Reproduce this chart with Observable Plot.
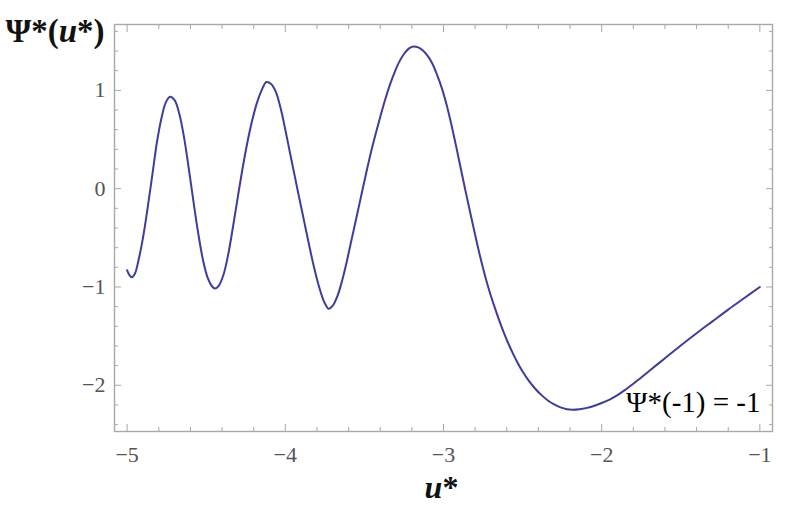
<!DOCTYPE html>
<html><head><meta charset="utf-8">
<script src="https://cdn.jsdelivr.net/npm/d3@7"></script>
<script src="https://cdn.jsdelivr.net/npm/@observablehq/plot@0.6"></script>
<style>body{margin:0;background:#fff}</style>
</head><body><div id="chart"></div>
<script>
// Values
const uValues = [
  -5.00, -4.985, -4.97, -4.95, -4.93, -4.90, -4.87, -4.84, -4.81, -4.78, -4.755, -4.728,
  -4.70, -4.67, -4.64, -4.61, -4.58, -4.55, -4.52, -4.49, -4.465, -4.445,
  -4.42, -4.39, -4.36, -4.33, -4.30, -4.27, -4.24, -4.21, -4.18, -4.15, -4.12,
  -4.09, -4.06, -4.03, -4.00, -3.97, -3.94, -3.91, -3.88, -3.85, -3.82, -3.79, -3.76, -3.74, -3.728,
  -3.70, -3.67, -3.64, -3.61, -3.58, -3.55, -3.52, -3.49, -3.46, -3.43, -3.40, -3.37, -3.34, -3.31, -3.28, -3.25, -3.22, -3.19,
  -3.16, -3.13, -3.10, -3.07, -3.04, -3.01, -2.98, -2.95, -2.92, -2.89, -2.86, -2.83, -2.80, -2.77, -2.74, -2.71, -2.68, -2.65, -2.62, -2.59, -2.56, -2.53, -2.50,
  -2.46, -2.42, -2.38, -2.34, -2.30, -2.26, -2.22, -2.184, -2.14, -2.10, -2.05, -2.00,
  -1.95, -1.90, -1.85, -1.80, -1.75, -1.70, -1.65, -1.60, -1.50, -1.40, -1.30, -1.20, -1.10, -1.00
];
const psiValues = [
  -0.83, -0.88, -0.90, -0.86, -0.74, -0.50, -0.19, 0.15, 0.49, 0.74, 0.88, 0.935,
  0.90, 0.76, 0.52, 0.20, -0.14, -0.46, -0.73, -0.91, -0.99, -1.015,
  -0.985, -0.87, -0.66, -0.38, -0.08, 0.21, 0.47, 0.69, 0.87, 1.00, 1.085,
  1.065, 0.985, 0.82, 0.60, 0.36, 0.125, -0.11, -0.34, -0.57, -0.79, -0.98, -1.13, -1.195, -1.222,
  -1.19, -1.09, -0.93, -0.73, -0.51, -0.29, -0.07, 0.15, 0.36, 0.55, 0.73, 0.90, 1.05, 1.18, 1.29, 1.37, 1.425, 1.447,
  1.437, 1.405, 1.35, 1.27, 1.155, 1.02, 0.85, 0.65, 0.43, 0.20, -0.03, -0.25, -0.47, -0.68, -0.87, -1.04, -1.19, -1.33, -1.46, -1.575, -1.68, -1.775, -1.86,
  -1.955, -2.035, -2.10, -2.155, -2.195, -2.225, -2.243, -2.248, -2.243, -2.232, -2.21, -2.18,
  -2.145, -2.10, -2.045, -1.985, -1.92, -1.855, -1.79, -1.725, -1.595, -1.47, -1.35, -1.23, -1.115, -1.00
];

const xMajorTicks = [-5, -4, -3, -2, -1];
const xMinorTicks = [-4.8, -4.6, -4.4, -4.2, -3.8, -3.6, -3.4, -3.2, -2.8, -2.6, -2.4, -2.2, -1.8, -1.6, -1.4, -1.2];
const yMajorTicks = [-2, -1, 0, 1];
const yMinorTicks = [-2.4, -2.2, -1.8, -1.6, -1.4, -1.2, -0.8, -0.6, -0.4, -0.2, 0.2, 0.4, 0.6, 0.8, 1.2, 1.4, 1.6];

const xLabel = "u*";
const yLabel = "Ψ*(u*)";
const annotation = "Ψ*(-1) = -1";

const data = uValues.map((u, i) => ({u, psi: psiValues[i]}));

const frameColor = "#a8a8a8";
const serif = "Liberation Serif, Times New Roman, serif";
const fmt = d => d < 0 ? "\u2212" + Math.abs(d) : String(d);

const chart = Plot.plot({
  width: 805, height: 512,
  marginLeft: 114, marginRight: 33, marginTop: 24, marginBottom: 81,
  style: {fontFamily: serif, background: "white"},
  x: {domain: [-5.08, -0.92]},
  y: {domain: [-2.47, 1.67]},
  marks: [
    Plot.frame({stroke: frameColor, strokeWidth: 1.4}),
    // inward ticks on all four sides
    Plot.axisX(xMajorTicks, {anchor: "bottom", tickSize: -7, text: null, label: null, stroke: frameColor}),
    Plot.axisX(xMinorTicks, {anchor: "bottom", tickSize: -4, text: null, label: null, stroke: frameColor}),
    Plot.axisX(xMajorTicks, {anchor: "top", tickSize: -7, text: null, label: null, stroke: frameColor}),
    Plot.axisX(xMinorTicks, {anchor: "top", tickSize: -4, text: null, label: null, stroke: frameColor}),
    Plot.axisY(yMajorTicks, {anchor: "left", tickSize: -7, text: null, label: null, stroke: frameColor}),
    Plot.axisY(yMinorTicks, {anchor: "left", tickSize: -4, text: null, label: null, stroke: frameColor}),
    Plot.axisY(yMajorTicks, {anchor: "right", tickSize: -7, text: null, label: null, stroke: frameColor}),
    Plot.axisY(yMinorTicks, {anchor: "right", tickSize: -4, text: null, label: null, stroke: frameColor}),
    // tick labels
    Plot.axisX(xMajorTicks, {anchor: "bottom", tickSize: 0, tickPadding: 15, label: null, tickFormat: fmt, fontSize: 22, fontFamily: serif, fill: "#555"}),
    Plot.axisY(yMajorTicks, {anchor: "left", tickSize: 0, tickPadding: 9, label: null, tickFormat: fmt, fontSize: 22, fontFamily: serif, fill: "#555"}),
    // curve
    Plot.line(data, {x: "u", y: "psi", curve: "catmull-rom", stroke: "#3d3d9d", strokeWidth: 2}),
    // labels
    Plot.text([yLabel], {frameAnchor: "top-left", dx: -109, dy: -6, textAnchor: "start", fontSize: 33, fontWeight: "bold", fontFamily: serif, fill: "#111"}),
    Plot.text([xLabel], {frameAnchor: "bottom", dx: -2, dy: 66, fontSize: 32, fontWeight: "bold", fontFamily: serif, fill: "#111"}),
    Plot.text([annotation], {frameAnchor: "bottom-right", dx: -12, dy: -20, textAnchor: "end", fontSize: 29, fontFamily: serif, fill: "#000"})
  ]
});

// italic "u" inside the axis labels
d3.select(chart).selectAll("text").each(function() {
  const t = this.textContent;
  if (t === xLabel || t === yLabel) {
    const parts = t.split("u");
    const sel = d3.select(this);
    sel.text(null);
    parts.forEach((p, i) => {
      if (i > 0) sel.append("tspan").attr("font-style", "italic").text("u");
      if (p) sel.append("tspan").text(p);
    });
  }
});

document.getElementById("chart").appendChild(chart);
</script>
</body></html>
